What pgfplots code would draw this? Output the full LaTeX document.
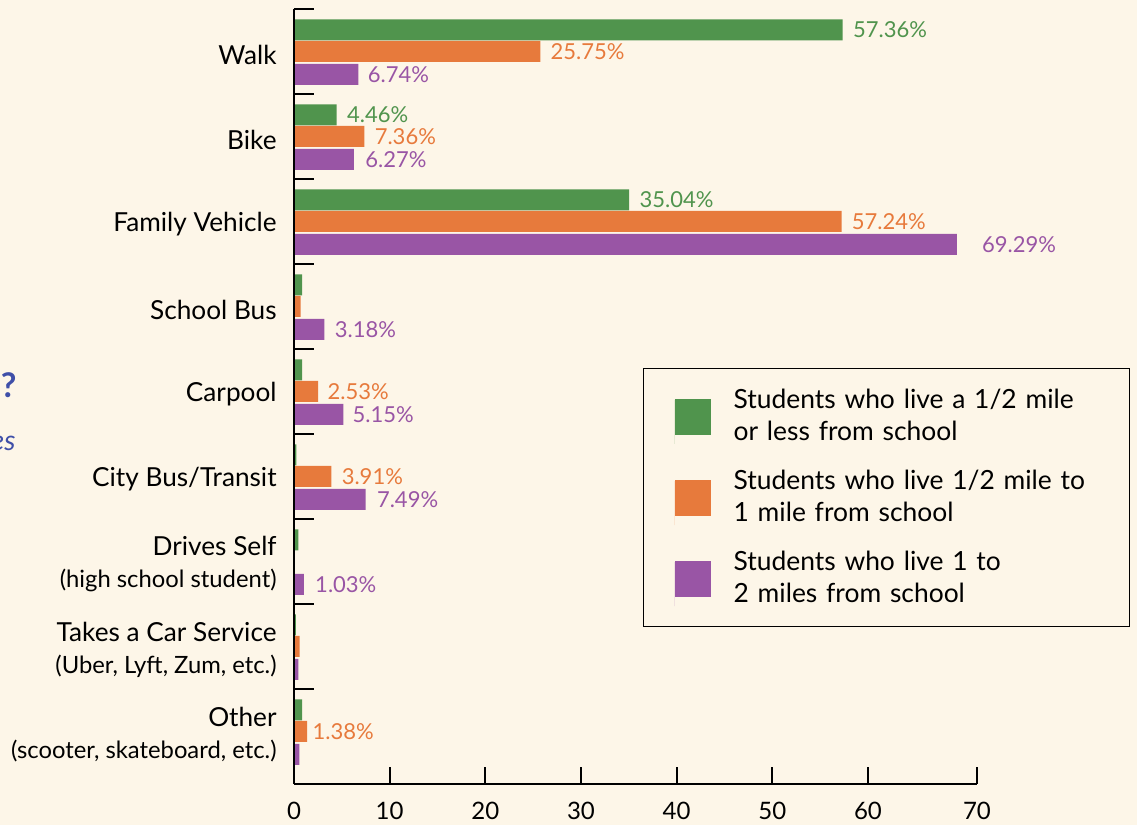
\documentclass[border=0pt]{standalone}
\usepackage{fontspec}
\setmainfont{Lato}
\usepackage{pgfplots}
\usepackage{pgfplotstable}
\pgfplotsset{compat=1.18}
\usetikzlibrary{backgrounds,calc}
\definecolor{bg}{HTML}{FDF6E8}
\definecolor{cgreen}{HTML}{50944D}
\definecolor{corange}{HTML}{E77A3C}
\definecolor{cpurple}{HTML}{9955A5}
\definecolor{cblue}{HTML}{3F4FA8}
\newcommand{\subl}[1]{{\fontsize{11.9}{14}\selectfont #1}}
\newcommand{\swatch}[1]{\fill[#1] (0pt,-17.5pt) rectangle (18pt,0.5pt); \path (0pt,-22pt) -- (0pt,0pt);}

% y: 8 = Walk ... 0 = Other
\pgfplotstableread{
x y lab dx
57.36 8 {57.36\%} 5
4.46 7 {4.46\%} 5
35.04 6 {35.04\%} 5
0.85 5 {} 5
0.85 4 {} 5
0.25 3 {} 5
0.45 2 {} 5
0.2 1 {} 5
0.85 0 {} 5
}\greendata
\pgfplotstableread{
x y lab dx
25.75 8 {25.75\%} 5
7.36 7 {7.36\%} 5
57.24 6 {57.24\%} 5
0.7 5 {} 5
2.53 4 {2.53\%} 4.5
3.91 3 {3.91\%} 5
0 2 {} 5
0.6 1 {} 5
1.38 0 {1.38\%} 2.5
}\orangedata
\pgfplotstableread{
x y lab dx
6.74 8 {6.74\%} 4.5
6.27 7 {6.27\%} 5.5
69.29 6 {69.29\%} 12.5
3.18 5 {3.18\%} 5
5.15 4 {5.15\%} 4.5
7.49 3 {7.49\%} 5.5
1.03 2 {1.03\%} 5.5
0.45 1 {} 5
0.55 0 {} 5
}\purpledata

\begin{document}
\begin{tikzpicture}
\begin{axis}[
  name=ax,
  scale only axis, width=341.5pt, height=387.5pt,
  xbar, bar width=10.5pt,
  xmin=0, xmax=71.4, ymin=-0.618, ymax=8.5,
  axis lines*=left,
  axis line style={line width=1pt, black},
  axis on top,
  xtick={0,10,20,30,40,50,60,71.4},
  xticklabels={0,10,20,30,40,50,60,70},
  ytick={0,...,8},
  yticklabels={
    {Other\\\subl{(scooter, skateboard, etc.)}},
    {Takes a Car Service\\\subl{(Uber, Lyft, Zum, etc.)}},
    {Drives Self\\\subl{(high school student)}},
    {City Bus/Transit},
    {Carpool},
    {School Bus},
    {Family Vehicle},
    {Bike},
    {Walk}},
  minor ytick={0.5,1.5,...,8.5},
  tick align=inside,
  major tick length=8.5pt,
  minor tick length=10pt,
  every major y tick/.style={draw=none},
  every minor y tick/.style={black, line width=1pt},
  every major x tick/.style={black, line width=1pt},
  /pgf/number format/assume math mode=true,
  xticklabel style={inner sep=0pt, yshift=-9pt, font=\fontsize{12}{14}\selectfont},
  yticklabel style={align=right, inner sep=0pt, xshift=-8.5pt, yshift=-1.5pt, font=\fontsize{13.1}{16}\selectfont},
  nodes near coords,
  nodes near coords align=horizontal,
  point meta=explicit symbolic,
  visualization depends on={\thisrow{dx} \as \dx},
  nodes near coords style={anchor=west, inner sep=0pt, xshift=\dx pt, font=\fontsize{11}{13}\selectfont},
  legend style={at={(axis description cs:0.511,0.5368)}, anchor=north west,
    draw=black, line width=0.6pt, fill=bg,
    inner xsep=15.5pt, inner ysep=10pt,
    row sep=13pt, column sep=11.5pt,
    font=\fontsize{13.2}{16}\selectfont,
    nodes={align=left, text width=182.5pt, inner sep=0pt}},
  legend cell align=left,
]
\addplot[fill=cgreen, draw=none, bar shift=10.75pt,
  nodes near coords style={text=cgreen},
  legend image code/.code={\swatch{cgreen}}]
  table[x=x, y=y, meta=lab] {\greendata};
\addlegendentry{Students who live a 1/2 mile\\or less from school}
\addplot[fill=corange, draw=none, bar shift=0pt,
  nodes near coords style={text=corange},
  legend image code/.code={\swatch{corange}}]
  table[x=x, y=y, meta=lab] {\orangedata};
\addlegendentry{Students who live 1/2 mile to\\1 mile from school}
\addplot[fill=cpurple, draw=none, bar shift=-11.5pt,
  nodes near coords style={text=cpurple},
  legend image code/.code={\swatch{cpurple}}]
  table[x=x, y=y, meta=lab] {\purpledata};
\addlegendentry{Students who live 1 to\\2 miles from school}
\end{axis}
\node[anchor=east, inner sep=0pt, text=cblue, font=\bfseries\fontsize{17}{20}\selectfont]
  at ($(ax.south west)+(-138.5pt,199.5pt)$) {?};
\node[anchor=east, inner sep=0pt, text=cblue, font=\itshape\fontsize{14}{16}\selectfont]
  at ($(ax.south west)+(-139pt,170.5pt)$) {es};
\pgfresetboundingbox
\path[use as bounding box] ($(ax.south west)+(-147pt,-20.5pt)$) rectangle ($(ax.south west)+(421.5pt,392pt)$);
\begin{scope}[on background layer]
\fill[bg] ($(ax.south west)+(-147pt,-20.5pt)$) rectangle ($(ax.south west)+(421.5pt,392pt)$);
\end{scope}
\end{tikzpicture}
\end{document}
